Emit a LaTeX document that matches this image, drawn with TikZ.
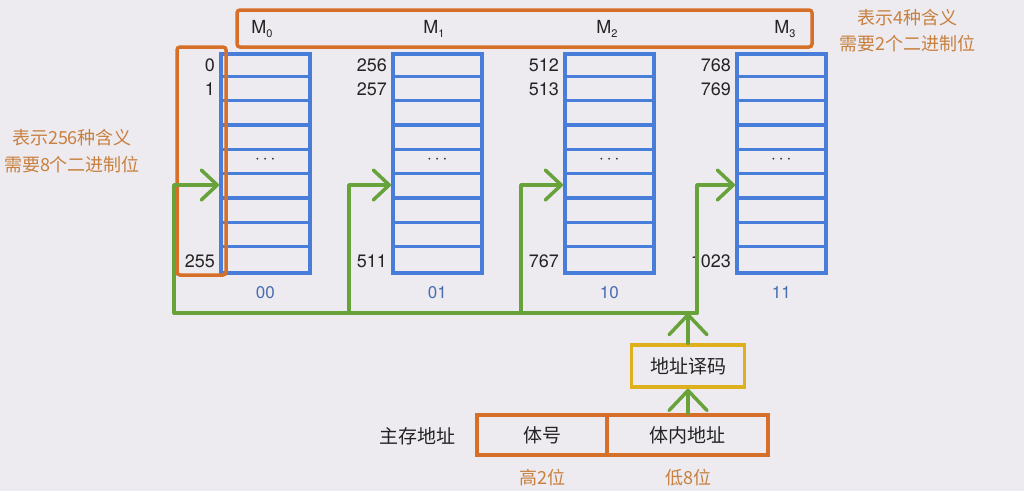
\documentclass[tikz,border=0pt]{standalone}
\usepackage{fontspec}
\setmainfont{TeX Gyre Heros}
\newfontfamily\cjk{Noto Sans CJK SC}
\usetikzlibrary{arrows.meta}
\definecolor{bgc}{RGB}{237,235,240}
\definecolor{blu}{RGB}{72,125,218}
\definecolor{org}{RGB}{214,112,40}
\definecolor{orgt}{RGB}{200,128,62}
\definecolor{grn}{RGB}{104,162,58}
\definecolor{yel}{RGB}{222,176,30}
\definecolor{blut}{RGB}{72,108,175}
\definecolor{txt}{RGB}{35,35,35}
\newcommand\subx[1]{\raisebox{-0.22em}{\fontsize{11}{11}\selectfont #1}}
\tikzset{
  blk/.style={draw=blu, line width=3.5pt, minimum width=89pt, minimum height=219pt, anchor=north west, inner sep=0pt},
  rowline/.style={draw=blu, line width=3.5pt},
  obox/.style={draw=org, line width=3.5pt, rounded corners=3pt},
  gline/.style={draw=grn, line width=3.5pt, line cap=round, line join=round},
  chev/.style={-{Straight Barb[length=16pt,width=30pt,round]}},
  upchev/.style={-{Straight Barb[length=20pt,width=38pt,round]}},
  num/.style={anchor=east, inner sep=0pt, text=txt, font=\fontsize{18}{20}\selectfont},
  lbl/.style={text=blut, font=\fontsize{17}{20}\selectfont},
  mlbl/.style={text=txt, font=\fontsize{18}{20}\selectfont},
  cjkt/.style={text=txt, font=\cjk\fontsize{19}{22}\selectfont},
  cjko/.style={text=orgt, font=\cjk\fontsize{18}{22}\selectfont},
}
\begin{document}
\begin{tikzpicture}[x=1pt,y=-1pt]
\fill[bgc] (0,0) rectangle (1024,491);
\useasboundingbox (0,0) rectangle (1024,491);
% memory blocks
\foreach \i/\a/\b/\c/\lab in {0/0/1/255/00,1/256/257/511/01,2/512/513/767/10,3/768/769/1023/11}{
  \node[blk] (b\i) at (219+172*\i,52) {};
  \foreach \k in {1,...,8}{
    \draw[rowline] ([yshift=-\k*24.33pt]b\i.north west) -- ([yshift=-\k*24.33pt]b\i.north east);
  }
  \node[num] (n\i a) at ([xshift=-4pt,yshift=-13pt]b\i.north west) {\a};
  \node[num] (n\i b) at ([xshift=-4pt,yshift=-37pt]b\i.north west) {\b};
  \node[num] (n\i c) at ([xshift=-4pt,yshift=-209pt]b\i.north west) {\c};
  \node[text=txt, inner sep=0pt, font=\fontsize{18}{18}\selectfont] (d\i) at ([yshift=-108pt]b\i.north) {$\cdots$};
  \node[lbl] (l\i) at ([yshift=-18pt]b\i.south) {\lab};
}
% top orange box
\draw[obox] (237,10) rectangle (812,47);
\node[mlbl] (m0) at (262,29) {M\subx{0}};
\node[mlbl] (m1) at (434,29) {M\subx{1}};
\node[mlbl] (m2) at (607,29) {M\subx{2}};
\node[mlbl] (m3) at (785,29) {M\subx{3}};
% left orange box
\draw[obox] (177,47) rectangle (226,275);
% side texts
\node[cjko] (t1) at (72,138) {表示256种含义};
\node[cjko] (t2) at (72,165) {需要8个二进制位};
\node[cjko] (t3) at (907,18) {表示4种含义};
\node[cjko] (t4) at (907,44) {需要2个二进制位};
% green bus
\coordinate (bus0) at (174,313);
\coordinate (bus1) at (349,313);
\coordinate (bus2) at (521,313);
\coordinate (bus3) at (697,313);
\coordinate (busd) at (688,313);
\draw[gline] (bus0) -- (bus3);
\foreach \i in {0,...,3}{
  \draw[gline,chev] (bus\i) |- ([yshift=-133pt]b\i.north west);
}
% decoder and address
\node[draw=yel, line width=3.5pt, minimum width=113pt, minimum height=42pt, inner sep=0pt, cjkt] (dec) at (688,366) {地址译码};
\node[draw=org, line width=3.5pt, minimum width=130pt, minimum height=40pt, inner sep=0pt, cjkt] (bh) at (542,435) {体号};
\node[draw=org, line width=3.5pt, minimum width=161pt, minimum height=40pt, inner sep=0pt, cjkt] (bn) at (687.5,435) {体内地址};
\node[cjkt] (addr) at (417,436) {主存地址};
\node[cjko] (hi) at (542,478) {高2位};
\node[cjko] (lo) at (688,478) {低8位};
\draw[gline,upchev] (bn.north -| dec.south) -- (dec.south);
\draw[gline,upchev] (dec.north) -- (busd);
\end{tikzpicture}
\end{document}
